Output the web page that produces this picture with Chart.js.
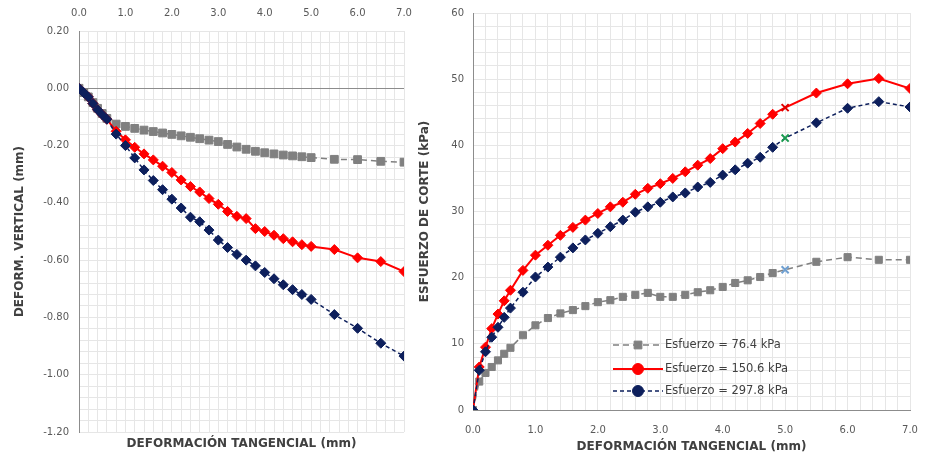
<!DOCTYPE html>
<html>
<head>
<meta charset="utf-8">
<script src="https://cdn.jsdelivr.net/npm/chart.js@4"></script>
<style>
  body { margin: 0; background: #fff; }
  .fila { display: flex; width: 928px; height: 457px; }
</style>
</head>
<body>
<div class="fila">
  <div style="width:412px;height:457px"><canvas id="vertical" width="412" height="457"></canvas></div>
  <div style="width:516px;height:457px"><canvas id="corte" width="516" height="457"></canvas></div>
</div>
<script>
// desplazamiento tangencial (mm)
const desplazamiento = [0, 0.1, 0.2, 0.3, 0.4, 0.5, 0.6, 0.8, 1.0, 1.2, 1.4, 1.6, 1.8, 2.0, 2.2, 2.4, 2.6, 2.8, 3.0,
    3.2, 3.4, 3.6, 3.8, 4.0, 4.2, 4.4, 4.6, 4.8, 5.0, 5.5, 6.0, 6.5, 7.0];

// deformacion vertical (mm)
const vertical76 = [0, -0.015, -0.03, -0.05, -0.07, -0.088, -0.105, -0.125, -0.133, -0.14, -0.146, -0.151, -0.156,
    -0.161, -0.166, -0.171, -0.176, -0.181, -0.186, -0.196, -0.205, -0.213, -0.22, -0.225, -0.229, -0.233, -0.236,
    -0.239, -0.242, -0.248, -0.249, -0.255, -0.258];
const vertical150 = [0, -0.015, -0.03, -0.053, -0.075, -0.092, -0.108, -0.15, -0.18, -0.206, -0.229, -0.25, -0.272,
    -0.294, -0.32, -0.343, -0.362, -0.385, -0.405, -0.43, -0.447, -0.455, -0.49, -0.50, -0.513, -0.525, -0.536,
    -0.546, -0.552, -0.563, -0.592, -0.605, -0.64];
const vertical297 = [0, -0.015, -0.03, -0.053, -0.075, -0.092, -0.108, -0.16, -0.2, -0.243, -0.285, -0.322, -0.354,
    -0.387, -0.418, -0.45, -0.466, -0.495, -0.53, -0.556, -0.58, -0.60, -0.62, -0.643, -0.665, -0.686, -0.703,
    -0.72, -0.737, -0.79, -0.838, -0.89, -0.935];

// esfuerzo de corte (kPa)
const corte76 = [0, 4.3, 5.6, 6.5, 7.5, 8.5, 9.4, 11.3, 12.8, 13.9, 14.6, 15.1, 15.7, 16.3, 16.6, 17.1, 17.4, 17.7,
    17.1, 17.1, 17.4, 17.8, 18.1, 18.6, 19.2, 19.6, 20.1, 20.7, 21.2, 22.4, 23.1, 22.7, 22.7];
const corte150 = [0, 6.5, 9.5, 12.3, 14.5, 16.5, 18.1, 21.1, 23.4, 24.9, 26.4, 27.6, 28.7, 29.7, 30.7, 31.4, 32.6,
    33.5, 34.2, 35.0, 36.0, 37.0, 38.0, 39.5, 40.5, 41.8, 43.3, 44.7, 45.7, 47.9, 49.3, 50.1, 48.6];
const corte297 = [0, 6.0, 8.8, 11.0, 12.5, 14.0, 15.4, 17.8, 20.1, 21.6, 23.1, 24.5, 25.7, 26.7, 27.7, 28.7, 29.9,
    30.7, 31.4, 32.2, 32.8, 33.7, 34.4, 35.5, 36.3, 37.3, 38.2, 39.7, 41.1, 43.4, 45.6, 46.6, 45.8];

const series = ['Esfuerzo = 76.4 kPa', 'Esfuerzo = 150.6 kPa', 'Esfuerzo = 297.8 kPa'];
const puntoQuiebre = 5.0;

const fuente = '"DejaVu Sans", sans-serif';
const grisTexto = '#595959';
const grisEje = '#8c8c8c';
const grisGrid = '#e6e6e6';

function puntos(ys) {
    return desplazamiento.map((x, i) => ({ x: x, y: ys[i] }));
}

function esMayor(v, paso) {
    return Math.abs(v / paso - Math.round(v / paso)) < 1e-6;
}

// fija el tamaño del eje y quita el relleno que Chart.js añade por las etiquetas extremas
function fijarAlto(alto) {
    return function (s) { s.height = alto; s.paddingLeft = 0; s.paddingRight = 0; };
}
function fijarAncho(ancho) {
    return function (s) { s.width = ancho; s.paddingTop = 0; s.paddingBottom = 0; };
}

function estiloSerie(color, marca, colorQuiebre, dash, ancho, radio) {
    const esQuiebre = ctx => colorQuiebre && desplazamiento[ctx.dataIndex] === puntoQuiebre;
    return {
        borderColor: color,
        backgroundColor: color,
        borderWidth: ancho,
        borderDash: dash,
        pointStyle: ctx => esQuiebre(ctx) ? 'crossRot' : marca,
        pointBorderColor: ctx => esQuiebre(ctx) ? colorQuiebre : color,
        pointBorderWidth: ctx => esQuiebre(ctx) ? 2 : 1,
        pointBackgroundColor: color,
        pointRadius: radio,
        tension: 0
    };
}

const leyendaInterna = {
    id: 'leyendaInterna',
    afterDatasetsDraw(chart) {
        const { ctx, chartArea } = chart;
        const x0 = chartArea.left + 140;
        const filas = [chartArea.bottom - 65, chartArea.bottom - 41, chartArea.bottom - 19];
        const marcas = ['rect', 'circle', 'circle'];
        chart.data.datasets.forEach((ds, i) => {
            const y = filas[i];
            ctx.save();
            ctx.strokeStyle = ds.borderColor;
            ctx.lineWidth = ds.borderWidth;
            ctx.setLineDash(ds.borderDash || []);
            ctx.beginPath();
            ctx.moveTo(x0, y);
            ctx.lineTo(x0 + 50, y);
            ctx.stroke();
            ctx.setLineDash([]);
            ctx.fillStyle = ds.borderColor;
            ctx.lineWidth = 1;
            Chart.helpers.drawPoint(ctx, { pointStyle: marcas[i], radius: 5.5, borderWidth: 1 }, x0 + 25, y);
            ctx.fillStyle = '#404040';
            ctx.font = '11.5px ' + fuente;
            ctx.textBaseline = 'middle';
            ctx.textAlign = 'left';
            ctx.fillText(series[i], x0 + 52, y);
            ctx.restore();
        });
    }
};

const tituloEje = { family: fuente, size: 12, weight: 'bold' };
const fuenteTicks = { family: fuente, size: 10 };

new Chart(document.getElementById('vertical'), {
    type: 'line',
    data: {
        datasets: [
            Object.assign({ label: series[0], data: puntos(vertical76), order: 2 },
                estiloSerie('#808080', 'rect', null, [6, 4], 1.5, 5.5)),
            Object.assign({ label: series[1], data: puntos(vertical150), order: 1 },
                estiloSerie('#ff0000', 'rectRot', null, [], 2, 5)),
            Object.assign({ label: series[2], data: puntos(vertical297), order: 0 },
                estiloSerie('#0d1f5c', 'rectRot', null, [4, 3], 1.5, 5))
        ]
    },
    options: {
        responsive: false,
        animation: false,
        layout: { padding: { right: 8 } },
        plugins: {
            legend: { display: false },
            tooltip: { enabled: false }
        },
        scales: {
            x: {
                type: 'linear',
                position: 'top',
                min: 0,
                max: 7,
                ticks: {
                    stepSize: 0.2,
                    autoSkip: false,
                    maxRotation: 0,
                    padding: 12,
                    color: grisTexto,
                    font: fuenteTicks,
                    callback: function (v) { return esMayor(v, 1) ? v.toFixed(1) : ''; }
                },
                grid: { color: grisGrid, drawTicks: false },
                border: { display: false },
                afterFit: fijarAlto(31)
            },
            xTitulo: {
                type: 'linear',
                position: 'bottom',
                grid: { display: false },
                border: { display: false },
                ticks: { display: false },
                title: {
                    display: true,
                    text: 'DEFORMACIÓN TANGENCIAL (mm)',
                    color: '#404040',
                    font: tituloEje,
                    padding: { top: 6, bottom: 6 }
                },
                afterFit: fijarAlto(25)
            },
            y: {
                min: -1.2,
                max: 0.2,
                ticks: {
                    stepSize: 0.04,
                    autoSkip: false,
                    padding: 10,
                    color: grisTexto,
                    font: fuenteTicks,
                    callback: function (v) { return esMayor(v, 0.2) ? v.toFixed(2) : ''; }
                },
                grid: {
                    color: function (ctx) { return ctx.tick && ctx.tick.value === 0 ? grisEje : grisGrid; },
                    drawTicks: false
                },
                border: { color: grisEje },
                title: {
                    display: true,
                    text: 'DEFORM. VERTICAL (mm)',
                    color: '#404040',
                    font: tituloEje,
                    padding: { top: 13, bottom: 13 }
                },
                afterFit: fijarAncho(79)
            }
        }
    }
});

new Chart(document.getElementById('corte'), {
    type: 'line',
    data: {
        datasets: [
            Object.assign({ label: series[0], data: puntos(corte76), order: 2 },
                estiloSerie('#808080', 'rect', '#6f9fd0', [6, 4], 1.5, 5)),
            Object.assign({ label: series[1], data: puntos(corte150), order: 1 },
                estiloSerie('#ff0000', 'rectRot', '#e00000', [], 2, 5)),
            Object.assign({ label: series[2], data: puntos(corte297), order: 0 },
                estiloSerie('#0d1f5c', 'rectRot', '#1a9a50', [4, 3], 1.5, 5))
        ]
    },
    options: {
        responsive: false,
        animation: false,
        layout: { padding: { top: 13, right: 18 } },
        plugins: {
            legend: { display: false },
            tooltip: { enabled: false }
        },
        scales: {
            x: {
                type: 'linear',
                position: 'bottom',
                min: 0,
                max: 7,
                ticks: {
                    stepSize: 0.2,
                    autoSkip: false,
                    maxRotation: 0,
                    padding: 14,
                    color: grisTexto,
                    font: fuenteTicks,
                    callback: function (v) { return esMayor(v, 1) ? v.toFixed(1) : ''; }
                },
                grid: { color: grisGrid, drawTicks: false },
                border: { color: grisEje },
                title: {
                    display: true,
                    text: 'DEFORMACIÓN TANGENCIAL (mm)',
                    color: '#404040',
                    font: tituloEje,
                    padding: { top: 3, bottom: 3 }
                },
                afterFit: fijarAlto(47)
            },
            y: {
                min: 0,
                max: 60,
                ticks: {
                    stepSize: 2,
                    autoSkip: false,
                    padding: 9,
                    color: grisTexto,
                    font: fuenteTicks,
                    callback: function (v) { return esMayor(v, 10) ? String(v) : ''; }
                },
                grid: { color: grisGrid, drawTicks: false },
                border: { color: grisEje },
                title: {
                    display: true,
                    text: 'ESFUERZO DE CORTE (kPa)',
                    color: '#404040',
                    font: tituloEje,
                    padding: { top: 6, bottom: 6 }
                },
                afterFit: fijarAncho(61)
            }
        }
    },
    plugins: [leyendaInterna]
});
</script>
</body>
</html>
